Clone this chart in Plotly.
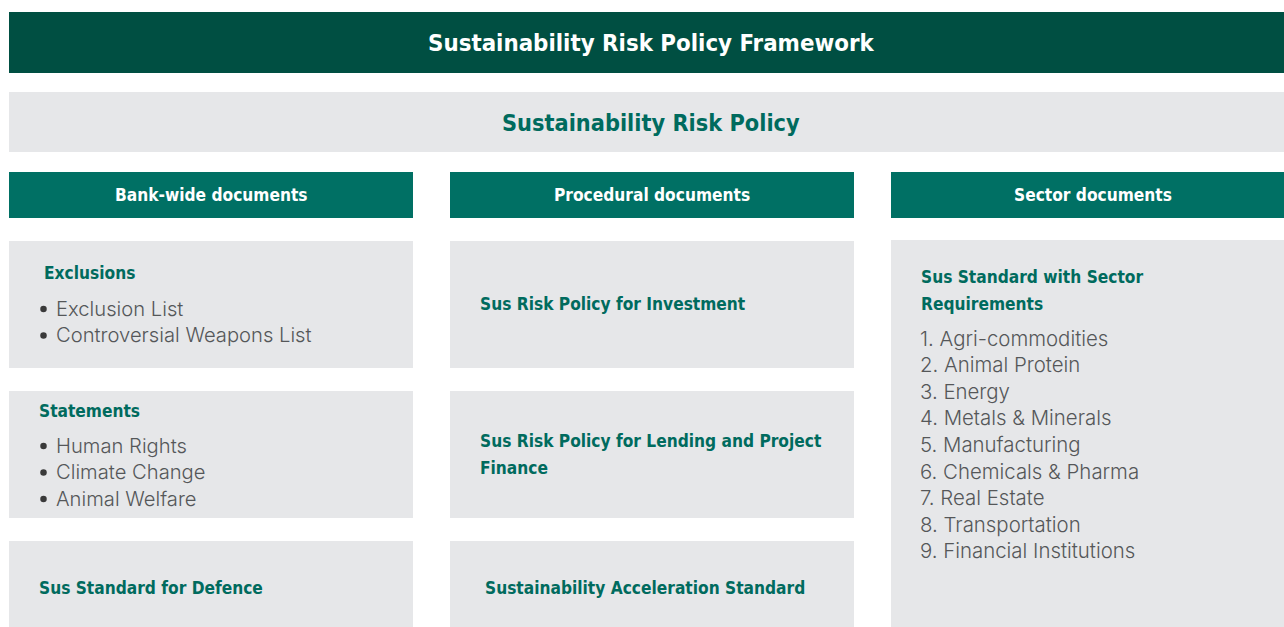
import plotly.graph_objects as go

W, H = 1284, 627

title_text = "Sustainability Risk Policy Framework"
policy_text = "Sustainability Risk Policy"
column_headers = ["Bank-wide documents", "Procedural documents", "Sector documents"]

exclusions_title = "Exclusions"
exclusions_items = ["Exclusion List", "Controversial Weapons List"]
statements_title = "Statements"
statements_items = ["Human Rights", "Climate Change", "Animal Welfare"]
defence_title = "Sus Standard for Defence"

procedural_docs = [
    ["Sus Risk Policy for Investment"],
    ["Sus Risk Policy for Lending and Project", "Finance"],
    ["Sustainability Acceleration Standard"],
]

sector_title = ["Sus Standard with Sector", "Requirements"]
sector_items = ["Agri-commodities", "Animal Protein", "Energy", "Metals & Minerals",
                "Manufacturing", "Chemicals & Pharma", "Real Estate",
                "Transportation", "Financial Institutions"]

DARK = "#004F42"
TEAL = "#007064"
HEAD = "#006B5E"
GREY = "#E6E7E9"
BODY = "#555759"
COND = "DejaVu Sans Condensed, Roboto, sans-serif"
LIGHT = "Inter, Roboto, sans-serif"

fig = go.Figure()
shapes = []
ann = []

def rect(x0, y0, x1, y1, color):
    shapes.append(dict(type="rect", xref="x", yref="y", x0=x0, y0=y0, x1=x1, y1=y1,
                       fillcolor=color, line=dict(width=0), layer="below"))

def text(x, y, s, size, color, family, bold=False, anchor="left", weight=None):
    f = dict(size=size, color=color, family=family)
    if bold:
        f["weight"] = "bold"
    elif weight:
        f["weight"] = weight
    ann.append(dict(x=x, y=y, xref="x", yref="y", text=s, showarrow=False,
                    xanchor=anchor, yanchor="middle", font=f))

HS = 17.2  # heading size

# top bars
rect(9, 12, 1284, 73, DARK)
text(651, 43, title_text, 23.8, "white", COND, bold=True, anchor="center")
rect(9, 92, 1284, 152, GREY)
text(651, 122, policy_text, 23.3, HEAD, COND, bold=True, anchor="center")

cols = [(9, 413), (450, 854), (891, 1284)]
header_cx = [211, 652, 1093]
for (x0, x1), h, cx in zip(cols, column_headers, header_cx):
    rect(x0, 172, x1, 218, TEAL)
    text(cx, 195, h, HS, "white", COND, bold=True, anchor="center")

rows = [(241, 368), (391, 518), (541, 627)]
for (x0, x1) in cols[:2]:
    for (y0, y1) in rows:
        rect(x0, y0, x1, y1, GREY)
rect(891, 240, 1284, 627, GREY)

BS = 20.2
bx, by = [], []

def bullet_list(x, y0, items):
    for i, s in enumerate(items):
        y = y0 + i * 26.5
        bx.append(x + 1.5)
        by.append(y + 1)
        text(x + 12, y, s, BS, BODY, LIGHT, weight=300)

# column 1
text(42, 273, exclusions_title, HS, HEAD, COND, bold=True)
bullet_list(42, 308, exclusions_items)
text(37, 411, statements_title, HS, HEAD, COND, bold=True)
bullet_list(42, 445, statements_items)
text(37, 588, defence_title, HS, HEAD, COND, bold=True)

fig.add_trace(go.Scatter(x=bx, y=by, mode="markers", hoverinfo="skip",
                         marker=dict(size=6.5, color="#3a3a3a", line=dict(width=0))))

# column 2
proc_x = [478, 478, 483]
proc_y = [304, 441, 588]
for lines, x, y in zip(procedural_docs, proc_x, proc_y):
    for j, s in enumerate(lines):
        text(x, y + j * 26.5, s, HS, HEAD, COND, bold=True)

# column 3
for j, s in enumerate(sector_title):
    text(919, 277 + j * 27, s, HS, HEAD, COND, bold=True)
for i, s in enumerate(sector_items):
    text(918, 338 + i * 26.6, f"{i + 1}. {s}", 20.4, BODY, LIGHT, weight=300)

fig.update_layout(
    width=W, height=H, margin=dict(l=0, r=0, t=0, b=0),
    paper_bgcolor="white", plot_bgcolor="white",
    xaxis=dict(range=[0, W], visible=False, fixedrange=True),
    yaxis=dict(range=[H, 0], visible=False, fixedrange=True),
    shapes=shapes, annotations=ann, showlegend=False,
)
fig.write_html("out.html", config={"displayModeBar": False},
               post_script="document.body.style.margin='0';document.body.style.overflow='hidden';")
